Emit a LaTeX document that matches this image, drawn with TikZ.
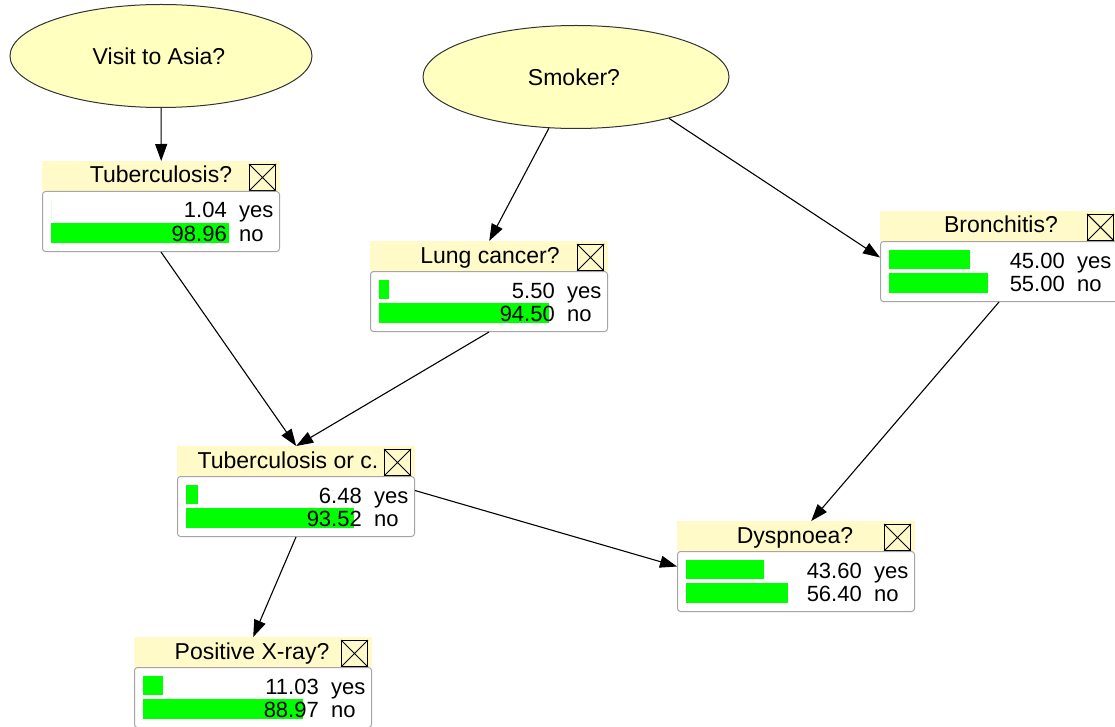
\documentclass[tikz,border=0pt]{standalone}
\usepackage{fontspec}
\setmainfont{Liberation Sans}
\usetikzlibrary{shapes.geometric,arrows.meta,calc}
\definecolor{hdry}{RGB}{255,250,200}
\definecolor{elly}{RGB}{255,255,192}
\definecolor{boxgray}{RGB}{165,165,165}
\definecolor{bargreen}{RGB}{0,255,0}
\tikzset{
 hdr/.style={fill=hdry, draw=none, minimum width=238pt, minimum height=30pt, inner sep=0pt, anchor=north west},
 bbox/.style={draw=boxgray, fill=white, rounded corners=3pt, minimum width=237pt, minimum height=60pt, inner sep=0pt, anchor=north west, line width=1pt},
 chk/.style={draw=black, line width=0.9pt, minimum width=26pt, minimum height=26pt, inner sep=0pt, anchor=north east},
 ttl/.style={font=\fontsize{23}{27}\selectfont, inner sep=0pt, anchor=base},
 val/.style={font=\fontsize{22}{26}\selectfont, inner sep=0pt, anchor=base east},
 lab/.style={font=\fontsize{22}{26}\selectfont, inner sep=0pt, anchor=base west},
 ell/.style={ellipse, draw=black!80, fill=elly, line width=1pt, inner sep=0pt, font=\fontsize{23}{27}\selectfont},
 arr/.style={-{Triangle[length=17pt,width=12pt]}, line width=1.1pt, black},
 bar/.style={fill=bargreen}
}
% #1 name, #2 left, #3 top, #4 title, #5 yes value, #6 no value, #7 yes pct, #8 no pct, #9 title centre offset
\newcommand\bnvar[9]{%
 \node[hdr] (#1h) at (#2,#3) {};
 \node[ttl] (#1t) at (#2+#9,#3+22) {#4};
 \node[chk] (#1c) at (#2+234,#3+3) {};
 \draw[line width=0.9pt] (#1c.north west) -- (#1c.south east) (#1c.north east) -- (#1c.south west);
 \node[bbox] (#1b) at (#2,#3+30) {};
 \fill[bar] (#2+9,#3+39) rectangle ++(#7*1.8,19);
 \fill[bar] (#2+9,#3+62) rectangle ++(#8*1.8,20);
 \node[val] (#1yv) at (#2+185,#3+57) {#5};
 \node[lab] (#1yl) at (#2+197,#3+57) {yes};
 \node[val] (#1nv) at (#2+185,#3+80) {#6};
 \node[lab] (#1nl) at (#2+197,#3+80) {no};
}
\begin{document}
\begin{tikzpicture}[x=1pt,y=-1pt]
\useasboundingbox (0,0) rectangle (1115,727);
\fill[white] (0,0) rectangle (1115,727);

\node[ell, minimum width=302pt, minimum height=103pt] (asia) at (161,56) {};
\node[font=\fontsize{23}{27}\selectfont, inner sep=0pt] (asiat) at (159,56) {Visit to Asia?};
\node[ell, minimum width=306pt, minimum height=103pt] (smoker) at (576,77) {};
\node[font=\fontsize{23}{27}\selectfont, inner sep=0pt] (smokert) at (574,77) {Smoker?};

\bnvar{tb}{42}{161}{Tuberculosis?}{1.04}{98.96}{0}{98.96}{119}
\bnvar{lc}{370}{241}{Lung cancer?}{5.50}{94.50}{5.50}{94.50}{120}
\bnvar{br}{880}{211}{Bronchitis?}{45.00}{55.00}{45.00}{55.00}{121}
\bnvar{tc}{177}{446}{Tuberculosis or c.}{6.48}{93.52}{6.48}{93.52}{111}
\bnvar{dy}{677}{521}{Dyspnoea?}{43.60}{56.40}{43.60}{56.40}{118}
\bnvar{xr}{134}{637}{Positive X-ray?}{11.03}{88.97}{11.03}{88.97}{118}

\draw[arr] (asia) -- (tbh.north);
\draw[arr] (smoker) -- (lch.north);
\draw[arr] (smoker.-24) -- ([yshift=14pt]brb.west);
\draw[arr] (tbb.south) -- (tch.north);
\draw[arr] (lcb.south) -- (tch.north);
\draw[arr] (brb.south) -- ([xshift=15pt]dyh.north);
\draw[arr] ([yshift=16pt]tcb.east) -- ([yshift=15pt]dyb.west);
\draw[arr] (tcb.south) -- (xrh.north);
\end{tikzpicture}
\end{document}
